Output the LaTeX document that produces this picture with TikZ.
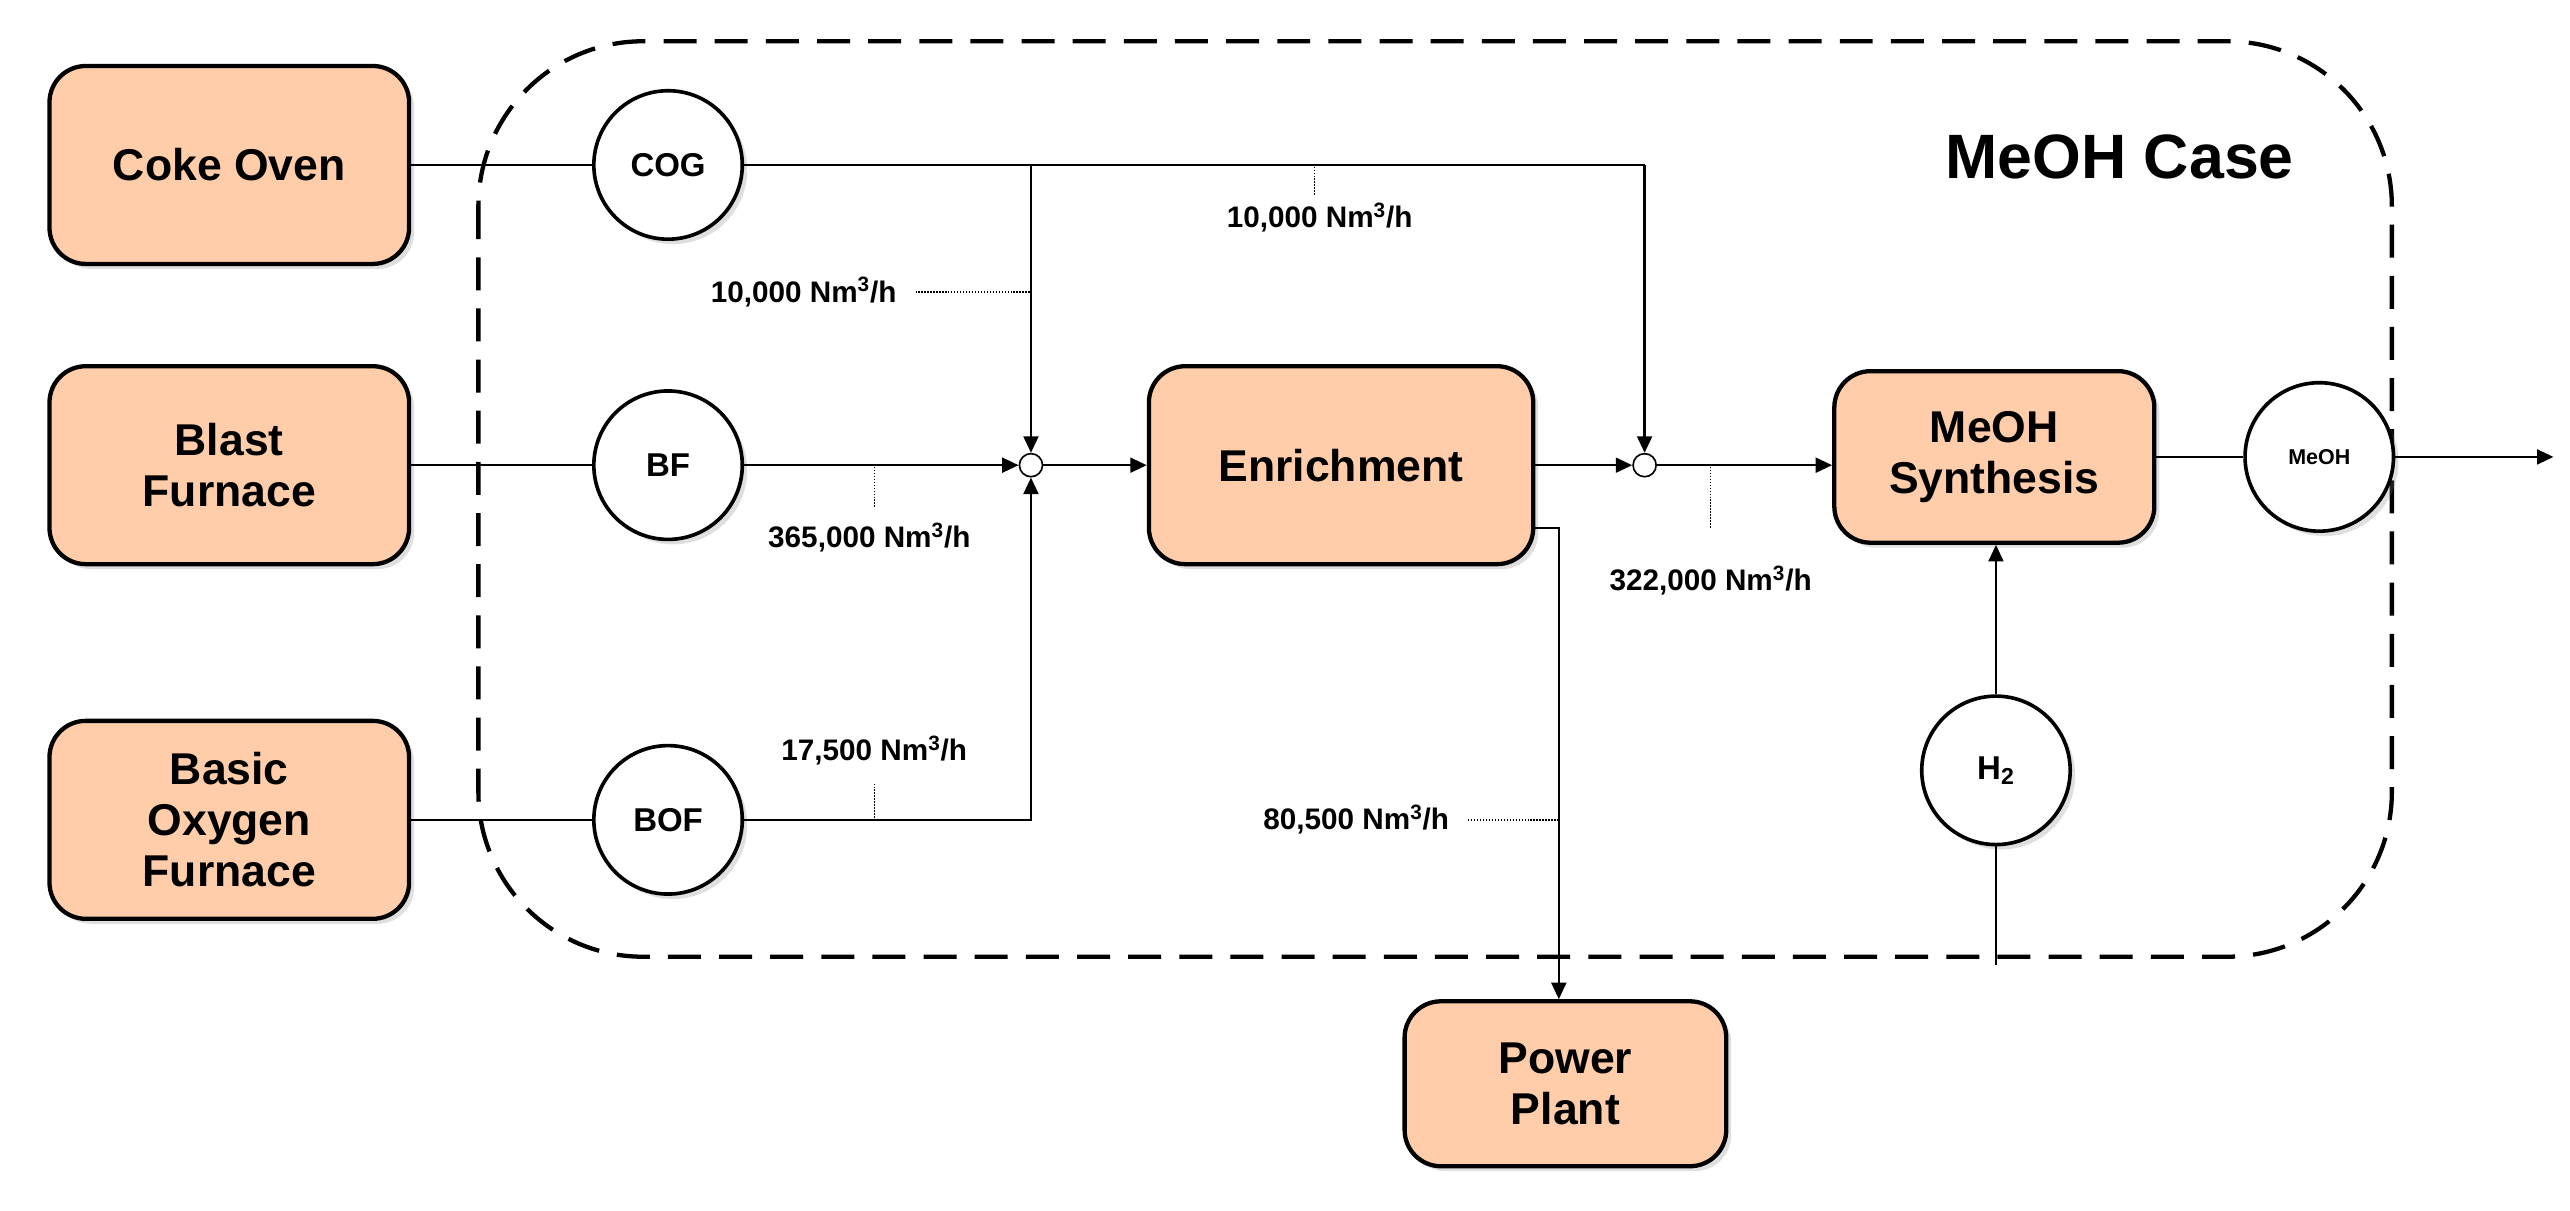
\documentclass[tikz,border=0pt]{standalone}
\usepackage{fontspec}
\setmainfont{Liberation Sans}
\usetikzlibrary{arrows.meta,shadows}
\definecolor{peach}{HTML}{FFCDAA}
\begin{document}
\begin{tikzpicture}[x=1pt,y=-1pt,
  box/.style={draw,line width=2.6pt,rounded corners=22pt,fill=peach,align=center,font=\fontsize{27}{31}\selectfont\bfseries,inner sep=0pt,drop shadow={opacity=0.25,shadow xshift=3pt,shadow yshift=-3pt}},
  stream/.style={draw,circle,line width=2.2pt,fill=white,minimum size=90pt,inner sep=0pt,font=\fontsize{20}{24}\selectfont\bfseries,drop shadow={opacity=0.25,shadow xshift=3pt,shadow yshift=-3pt}},
  jn/.style={draw,circle,line width=1pt,fill=white,minimum size=14pt,inner sep=0pt},
  ln/.style={line width=1.5pt},
  ar/.style={ln,-{Triangle[length=10pt,width=9pt]}},
  lab/.style={font=\fontsize{18}{22}\selectfont\bfseries},
  dot/.style={densely dotted,line width=0.8pt}]
\useasboundingbox (0,0) rectangle (1558,734);
\draw[line width=2.6pt,dash pattern=on 20pt off 11pt,rounded corners=100pt] (290,25) rectangle (1450,580);
\node[font=\fontsize{38}{44}\selectfont\bfseries] (case) at (1285,95) {MeOH Case};

\node[box,minimum width=218pt,minimum height=120pt] (co) at (139,100) {Coke Oven};
\node[box,minimum width=218pt,minimum height=120pt] (bf) at (139,282) {Blast\\Furnace};
\node[box,minimum width=218pt,minimum height=120pt] (bof) at (139,497) {Basic\\Oxygen\\Furnace};
\node[box,minimum width=233pt,minimum height=120pt] (en) at (813,282) {Enrichment};
\node[box,minimum width=194pt,minimum height=104pt] (ms) at (1209,277) {MeOH\\Synthesis};
\node[box,minimum width=195pt,minimum height=100pt] (pp) at (949,657) {Power\\Plant};

\node[stream] (cog) at (405,100) {COG};
\node[stream] (bfs) at (405,282) {BF};
\node[stream] (bofs) at (405,497) {BOF};
\node[stream] (h2) at (1210,467) {H\textsubscript{2}};
\node[stream,font=\fontsize{13}{15}\selectfont\bfseries] (me) at (1406,277) {MeOH};
\node[jn] (j1) at (625,282) {};
\node[jn] (j2) at (997,282) {};

\coordinate (c1) at (625,100);
\coordinate (c2) at (997,100);
\coordinate (c3) at (625,497);
\coordinate (c4) at (945,320);
\coordinate (c5) at (1548,277);
\coordinate (c6) at (1210,585);

\draw[ln] (co) -- (cog);
\draw[ln] (bf) -- (bfs);
\draw[ln] (bof) -- (bofs);
\draw[ln] (cog) -- (c2);
\draw[ar] (c2) -- (j2);
\draw[ar] (c1) -- (j1);
\draw[ar] (bfs) -- (j1);
\draw[ar] (bofs) -- (c3) -- (j1);
\draw[ar] (j1) -- (en);
\draw[ar] (en.east |- j2) -- (j2);
\draw[ar] (j2) -- (ms.west |- j2);
\draw[ln] (ms.east |- me) -- (me);
\draw[ar] (me) -- (c5);
\draw[ln] (c6) -- (h2);
\draw[ar] (h2) -- (ms.south -| h2);
\draw[ar] (en.east |- c4) -- (c4) -- (c4 |- pp.north);

\node[lab,anchor=east] (l1) at (547,177) {10,000 Nm\textsuperscript{3}/h};
\draw[dot] (555,177) -- (625,177);
\node[lab] (l2) at (800,132) {10,000 Nm\textsuperscript{3}/h};
\draw[dot] (797,101) -- (797,118);
\node[lab] (l3) at (527,326) {365,000 Nm\textsuperscript{3}/h};
\draw[dot] (530,283) -- (530,308);
\node[lab] (l4) at (530,455) {17,500 Nm\textsuperscript{3}/h};
\draw[dot] (530,475) -- (530,496);
\node[lab,anchor=east] (l5) at (882,497) {80,500 Nm\textsuperscript{3}/h};
\draw[dot] (890,497) -- (945,497);
\node[lab] (l6) at (1037,352) {322,000 Nm\textsuperscript{3}/h};
\draw[dot] (1037,283) -- (1037,320);
\end{tikzpicture}
\end{document}
